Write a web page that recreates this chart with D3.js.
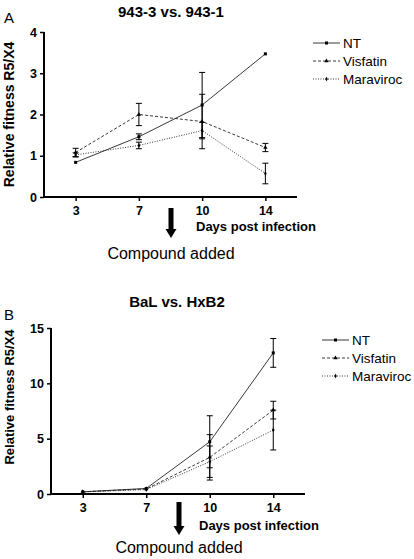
<!DOCTYPE html>
<html><head><meta charset="utf-8">
<script src="https://cdn.jsdelivr.net/npm/d3@7/dist/d3.min.js"></script>
<style>body{margin:0;background:#fff}svg{display:block}text{font-family:"Liberation Sans",Arial,sans-serif}</style>
</head><body>
<svg id="c" width="414" height="559"></svg>
<script>
const days = ["3","7","10","14"];
const seriesNames = ["NT","Visfatin","Maraviroc"];
// Panel A: 943-3 vs. 943-1
const aNT = [0.84, 1.46, 2.23, 3.47];
const aNTerr = [0.02, 0.07, 0.79, 0.0];
const aVis = [1.08, 2.00, 1.83, 1.20];
const aVisErr = [0.10, 0.27, 0.66, 0.10];
const aMar = [1.02, 1.25, 1.61, 0.57];
const aMarErr = [0.05, 0.08, 0.20, 0.25];
const aTicks = [0,1,2,3,4];
// Panel B: BaL vs. HxB2
const bNT = [0.20, 0.50, 4.72, 12.75];
const bNTerr = [0.05, 0.05, 2.35, 1.30];
const bVis = [0.20, 0.45, 3.31, 7.58];
const bVisErr = [0.05, 0.05, 2.05, 0.80];
const bMar = [0.18, 0.40, 2.92, 5.78];
const bMarErr = [0.05, 0.05, 1.42, 1.80];
const bTicks = [0,5,10,15];

const svg = d3.select("#c");
const dashes = [null, "3,2", "1,1.5"];

function marker(g, type, x, y, s) {
  if (type === 0) g.append("rect").attr("x", x - s/2).attr("y", y - s/2).attr("width", s).attr("height", s).attr("fill", "#000");
  else if (type === 1) g.append("path").attr("d", d3.symbol(d3.symbolTriangle, s*s*0.9)()).attr("transform", `translate(${x},${y})`).attr("fill", "#000");
  else g.append("path").attr("d", d3.symbol(d3.symbolDiamond, s*s*0.7)()).attr("transform", `translate(${x},${y})`).attr("fill", "#000");
}

function panel(cfg) {
  const g = svg.append("g");
  const x = d3.scalePoint().domain(days).range([cfg.x0, cfg.x1]).padding(0.5);
  const y = d3.scaleLinear().domain([0, cfg.ymax]).range([cfg.y0, cfg.yTop]);
  const data = [[cfg.nt, cfg.ntErr],[cfg.vis, cfg.visErr],[cfg.mar, cfg.marErr]];
  data.forEach(([vals, errs], i) => {
    const line = d3.line().x((d, j) => x(days[j])).y(d => y(d));
    g.append("path").attr("d", line(vals)).attr("fill", "none").attr("stroke", "#222")
      .attr("stroke-width", 0.9).attr("stroke-dasharray", dashes[i]);
    vals.forEach((v, j) => {
      const e = errs[j], cx = x(days[j]);
      if (e > 0.04 * cfg.ymax / 4) {
        g.append("line").attr("x1", cx).attr("x2", cx).attr("y1", y(v + e)).attr("y2", y(v - e)).attr("stroke", "#000").attr("stroke-width", 1);
        [v + e, v - e].forEach(t => g.append("line").attr("x1", cx - 3).attr("x2", cx + 3).attr("y1", y(t)).attr("y2", y(t)).attr("stroke", "#000").attr("stroke-width", 1));
      }
      marker(g, i, cx, y(v), 3);
    });
  });
  const ya = g.append("g").attr("transform", `translate(${cfg.x0},0)`)
    .call(d3.axisLeft(y).tickValues(cfg.ticks).tickFormat(d3.format("d")).tickSize(4).tickSizeOuter(0));
  const xa = g.append("g").attr("transform", `translate(0,${cfg.y0})`)
    .call(d3.axisBottom(x).tickSize(4).tickSizeOuter(0));
  [ya, xa].forEach(a => {
    a.select(".domain").attr("stroke", "#000").attr("stroke-width", 2);
    a.selectAll(".tick line").attr("stroke", "#000").attr("stroke-width", 1.5);
    a.selectAll("text").attr("font-size", 12.5).attr("font-weight", "bold").attr("fill", "#000")
      .style("font-family", '"Liberation Sans",Arial,sans-serif');
  });
  ya.select(".domain").attr("d", `M0,${cfg.y0}V${cfg.yTop}`);
  xa.select(".domain").attr("d", `M${cfg.x0},0H${cfg.x1}`);
  xa.selectAll("text").attr("dy", "0.9em");
  g.append("text").attr("x", cfg.titleX).attr("y", cfg.titleY).attr("text-anchor", "middle")
    .attr("font-size", 15).attr("font-weight", "bold").text(cfg.title);
  g.append("text").attr("x", 4).attr("y", cfg.letterY).attr("font-size", 15).text(cfg.letter);
  g.append("text").attr("transform", `translate(${cfg.ylabX},${(cfg.y0 + cfg.yTop)/2 + cfg.ylabDy}) rotate(-90)`)
    .attr("text-anchor", "middle").attr("font-size", cfg.ylabSize).attr("font-weight", "bold").text("Relative fitness R5/X4");
  g.append("text").attr("x", cfg.xlabX).attr("y", cfg.xlabY).attr("font-size", 13).attr("font-weight", "bold").text("Days post infection");
  const ax = cfg.arrowX, at = cfg.arrowTop, ab = cfg.arrowBot;
  g.append("rect").attr("x", ax - 2.5).attr("y", at).attr("width", 5).attr("height", ab - at - 8).attr("fill", "#000");
  g.append("path").attr("d", `M${ax-5.5},${ab-9}L${ax+5.5},${ab-9}L${ax},${ab}Z`).attr("fill", "#000");
  g.append("text").attr("x", ax).attr("y", cfg.compY).attr("text-anchor", "middle").attr("font-size", 16).text("Compound added");
  seriesNames.forEach((n, i) => {
    const ly = cfg.legY + i * 18;
    g.append("line").attr("x1", cfg.legX).attr("x2", cfg.legX + 27).attr("y1", ly).attr("y2", ly)
      .attr("stroke", "#222").attr("stroke-width", 0.9).attr("stroke-dasharray", dashes[i]);
    marker(g, i, cfg.legX + 13.5, ly, 3);
    g.append("text").attr("x", cfg.legX + 30).attr("y", ly).attr("dy", "0.36em").attr("font-size", 13.5).text(n);
  });
}

panel({x0:44, x1:297, y0:197, yTop:32, ymax:4, ticks:aTicks,
  nt:aNT, ntErr:aNTerr, vis:aVis, visErr:aVisErr, mar:aMar, marErr:aMarErr,
  title:"943-3 vs. 943-1", titleX:171, titleY:17, letter:"A", letterY:23,
  ylabX:14, ylabDy:0, ylabSize:14, xlabX:196, xlabY:231, arrowX:171, arrowTop:208, arrowBot:238, compY:259,
  legX:313, legY:43});
panel({x0:51, x1:305, y0:494, yTop:328, ymax:15, ticks:bTicks,
  nt:bNT, ntErr:bNTerr, vis:bVis, visErr:bVisErr, mar:bMar, marErr:bMarErr,
  title:"BaL vs. HxB2", titleX:177, titleY:307, letter:"B", letterY:320,
  ylabX:14, ylabDy:-14, ylabSize:13, xlabX:199, xlabY:530, arrowX:179, arrowTop:502, arrowBot:535, compY:553,
  legX:322, legY:340});
</script>
</body></html>
